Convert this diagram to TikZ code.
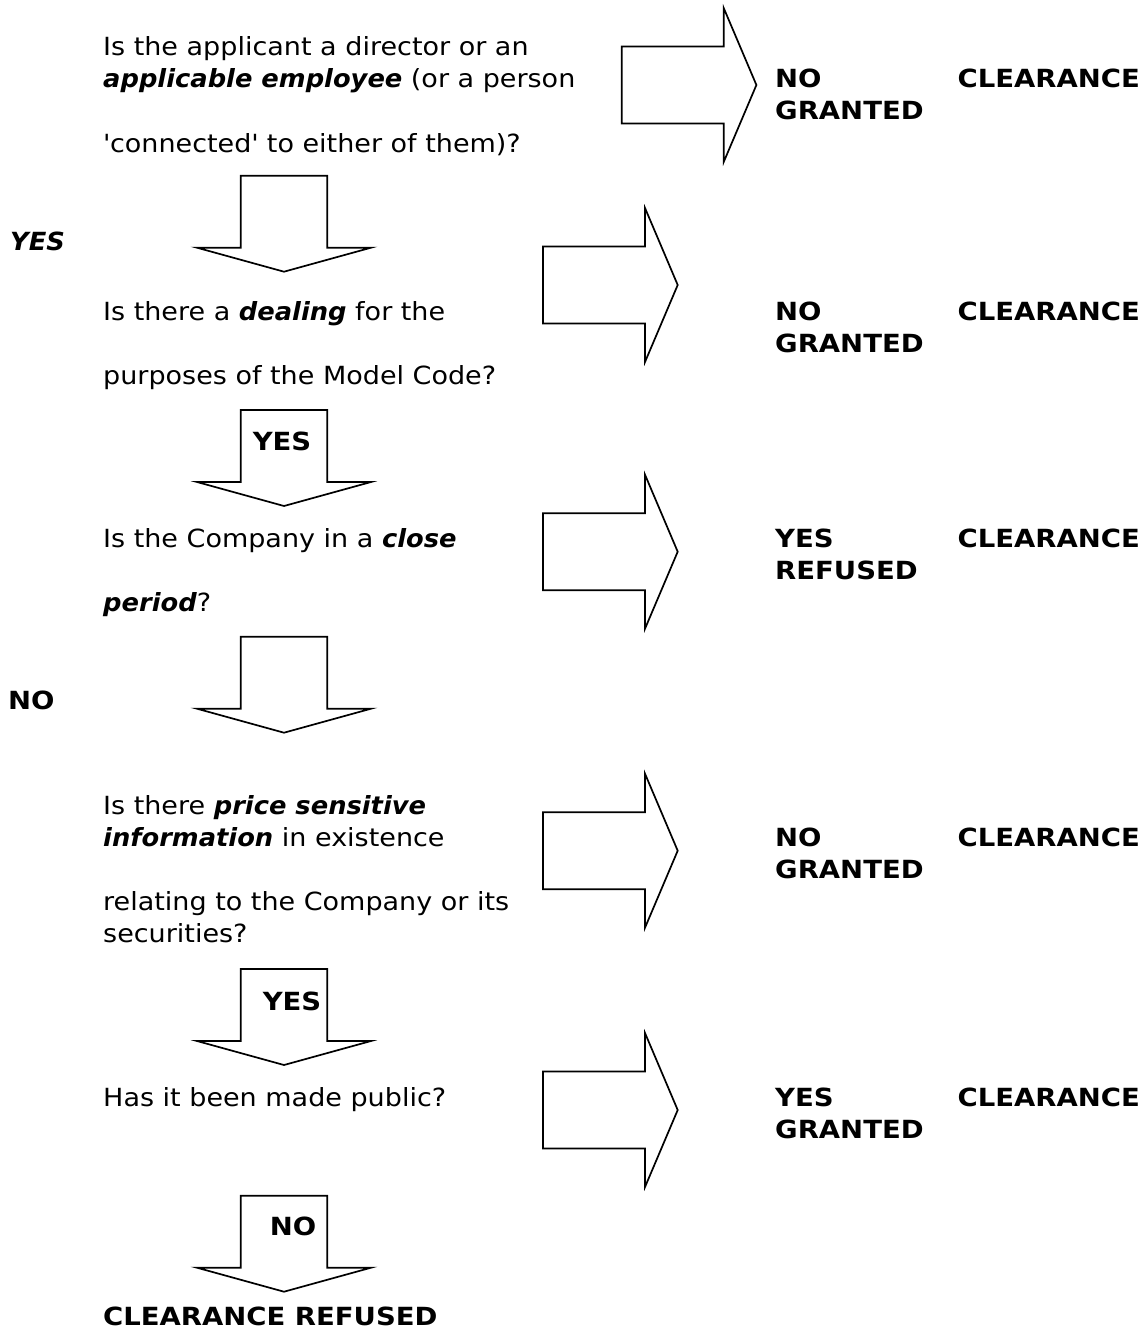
\documentclass[tikz,border=0pt]{standalone}
\usepackage{fontspec}
\setmainfont{DejaVu Sans}[FakeStretch=1.08,BoldFeatures={FakeStretch=1.10},BoldItalicFeatures={FakeStretch=1.03}]
\tikzset{
  txt/.style={anchor=base west,inner sep=0pt,font=\fontsize{25}{32}\selectfont},
  ans/.style={txt,font=\fontsize{25}{32}\selectfont\bfseries},
  ansr/.style={ans,anchor=base east},
  blk/.style={draw=black,line width=1.7pt,line join=miter,fill=white},
  downarrow/.pic={\path[blk] (-43.3,0) -- (-43.3,72) -- (-87,72) -- (0,96) -- (87,72) -- (43.3,72) -- (43.3,0) -- cycle;},
  rightarrow/.pic={\path[blk] (0,-38.5) -- (102,-38.5) -- (102,-77) -- (134.7,0) -- (102,77) -- (102,38.5) -- (0,38.5) -- cycle;}
}
\begin{document}
\begin{tikzpicture}[x=1pt,y=-1pt]
            \useasboundingbox (0,0) rectangle (1147,1335);

            % first question
            \node[txt] (q1a) at (103,56) {Is the applicant a director or an};
            \node[txt] (q1b) at (103,88) {\textbf{\textit{applicable employee}} (or a person};
            \node[txt] (q1c) at (103,152) {\textquotesingle connected\textquotesingle{} to either of them)?};
            \pic at (621.7,85) {rightarrow};
            \node[ans] (a1) at (775,88) {NO};
            \node[ansr] (c1) at (1140,88) {CLEARANCE};
            \node[ans] (g1) at (775,120) {GRANTED};
            \pic at (284,175.7) {downarrow};
            \node[ans,font=\fontsize{25}{32}\selectfont\bfseries\itshape] (y1) at (10,250) {YES};

            % dealing
            \node[txt] (q2a) at (103,320) {Is there a \textbf{\textit{dealing}} for the};
            \node[txt] (q2b) at (103,384) {purposes of the Model Code?};
            \pic at (543,285) {rightarrow};
            \node[ans] (a2) at (775,320) {NO};
            \node[ansr] (c2) at (1140,320) {CLEARANCE};
            \node[ans] (g2) at (775,352) {GRANTED};
            \pic at (284,410) {downarrow};
            \node[ans,anchor=center] (y2) at (282,441.7) {YES};

            % close period
            \node[txt] (q3a) at (103,547) {Is the Company in a \textbf{\textit{close}}};
            \node[txt] (q3b) at (103,611) {\textbf{\textit{period}}?};
            \pic at (543,551.7) {rightarrow};
            \node[ans] (a3) at (775,547) {YES};
            \node[ansr] (c3) at (1140,547) {CLEARANCE};
            \node[ans] (r3) at (775,579) {REFUSED};
            \pic at (284,636.7) {downarrow};
            \node[ans] (n3) at (8,709) {NO};

            % price sensitive information
            \node[txt] (q4a) at (103,814) {Is there \textbf{\textit{price sensitive}}};
            \node[txt] (q4b) at (103,846) {\textbf{\textit{information}} in existence};
            \node[txt] (q4c) at (103,910) {relating to the Company or its};
            \node[txt] (q4d) at (103,942) {securities?};
            \pic at (543,850.7) {rightarrow};
            \node[ans] (a4) at (775,846) {NO};
            \node[ansr] (c4) at (1140,846) {CLEARANCE};
            \node[ans] (g4) at (775,878) {GRANTED};
            \pic at (284,969) {downarrow};
            \node[ans,anchor=center] (y4) at (292,1001.7) {YES};

            % made public
            \node[txt] (q5a) at (103,1106) {Has it been made public?};
            \pic at (543,1110) {rightarrow};
            \node[ans] (a5) at (775,1106) {YES};
            \node[ansr] (c5) at (1140,1106) {CLEARANCE};
            \node[ans] (g5) at (775,1138) {GRANTED};
            \pic at (284,1195.7) {downarrow};
            \node[ans,anchor=center] (n5) at (293,1226.7) {NO};
            \node[ans] (end) at (103,1325) {CLEARANCE REFUSED};
        \end{tikzpicture}
\end{document}
